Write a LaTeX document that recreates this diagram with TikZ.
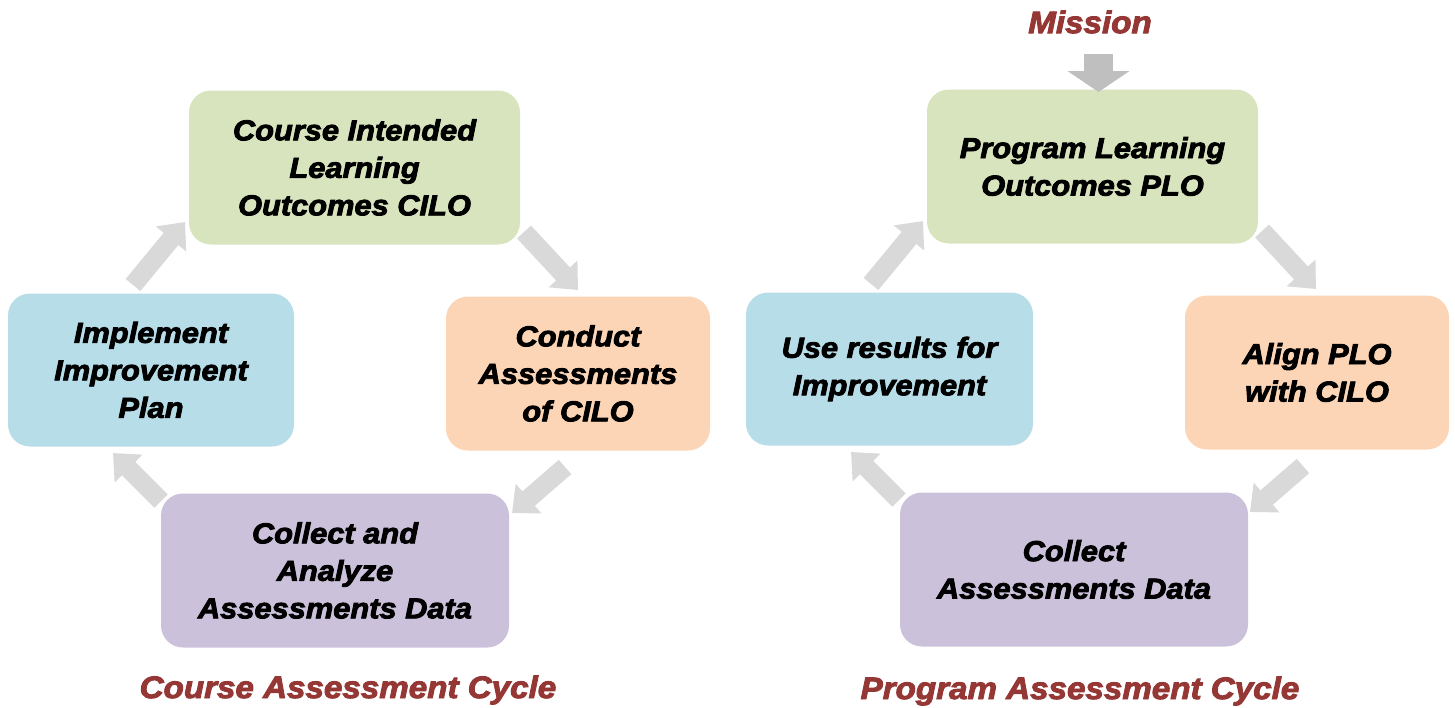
\documentclass[tikz,border=0pt]{standalone}
\usepackage{fontspec}
\newfontfamily\heavy{Liberation Sans}[FakeBold=3, FakeStretch=1.07]
\usetikzlibrary{arrows.meta}
\definecolor{boxgreen}{HTML}{D7E4BD}
\definecolor{boxblue}{HTML}{B7DDE8}
\definecolor{boxorange}{HTML}{FBD5B5}
\definecolor{boxpurple}{HTML}{CCC1DA}
\definecolor{cyclegray}{HTML}{D9D9D9}
\definecolor{missiongray}{HTML}{BFBFBF}
\definecolor{titlered}{HTML}{953735}
\tikzset{
  stagebox/.style={rounded corners=22pt, inner sep=0pt, align=center,
    font=\heavy\bfseries\itshape\fontsize{28.8}{37.5}\selectfont},
  cyclearrow/.style={color=cyclegray, line width=19pt,
    -{Triangle[width=38pt,length=22pt]}},
  missionarrow/.style={color=missiongray, line width=29pt,
    -{Triangle[width=61pt,length=21pt]}},
  cycletitle/.style={text=titlered, inner sep=0pt,
    font=\heavy\bfseries\itshape\fontsize{31}{36}\selectfont}
}
\begin{document}
\begin{tikzpicture}[x=1pt,y=-1pt]
\useasboundingbox (0,0) rectangle (1455,707);

% Course assessment cycle
\node[stagebox, fill=boxgreen, minimum width=331pt, minimum height=154pt] (cilo) at (354.5,167.5)
  {Course Intended\\Learning\\Outcomes CILO};
\node[stagebox, fill=boxorange, minimum width=264pt, minimum height=154pt] (conduct) at (578,373.5)
  {Conduct\\Assessments\\of CILO};
\node[stagebox, fill=boxpurple, minimum width=348pt, minimum height=154pt] (collectL) at (335,570.5)
  {Collect and\\Analyze\\Assessments Data};
\node[stagebox, fill=boxblue, minimum width=286pt, minimum height=153pt] (impl) at (151,370)
  {Implement\\Improvement\\Plan};

\coordinate (l1s) at (133,285);  \coordinate (l1e) at (185,222);
\coordinate (l2s) at (524,232);  \coordinate (l2e) at (578,290);
\coordinate (l3s) at (565,467);  \coordinate (l3e) at (512,513);
\coordinate (l4s) at (161,501);  \coordinate (l4e) at (113,453);
\draw[cyclearrow] (l1s) -- (l1e);
\draw[cyclearrow] (l2s) -- (l2e);
\draw[cyclearrow] (l3s) -- (l3e);
\draw[cyclearrow] (l4s) -- (l4e);

\node[cycletitle] (ctitle) at (348,690) {Course Assessment Cycle};

% Program assessment cycle
\node[stagebox, fill=boxgreen, minimum width=331pt, minimum height=154pt] (plo) at (1092.5,166.5)
  {Program Learning\\Outcomes PLO};
\node[stagebox, fill=boxorange, minimum width=264pt, minimum height=154pt] (align) at (1317,372.5)
  {Align PLO\\with CILO};
\node[stagebox, fill=boxpurple, minimum width=348pt, minimum height=154pt] (collectR) at (1074,569.5)
  {Collect\\Assessments Data};
\node[stagebox, fill=boxblue, minimum width=287pt, minimum height=153pt] (use) at (889.5,369)
  {Use results for\\Improvement};

\coordinate (r1s) at (871,284);  \coordinate (r1e) at (923,221);
\coordinate (r2s) at (1262,231); \coordinate (r2e) at (1316,289);
\coordinate (r3s) at (1303,466); \coordinate (r3e) at (1250,512);
\coordinate (r4s) at (899,500);  \coordinate (r4e) at (851,452);
\draw[cyclearrow] (r1s) -- (r1e);
\draw[cyclearrow] (r2s) -- (r2e);
\draw[cyclearrow] (r3s) -- (r3e);
\draw[cyclearrow] (r4s) -- (r4e);

\node[cycletitle] (ptitle) at (1080,691) {Program Assessment Cycle};

% Mission feeding the program outcomes
\node[cycletitle] (mission) at (1090,22) {Mission};
\coordinate (ms) at (1098.5,54);
\coordinate (me) at (1098.5,92);
\draw[missionarrow] (ms) -- (me);
\end{tikzpicture}
\end{document}
